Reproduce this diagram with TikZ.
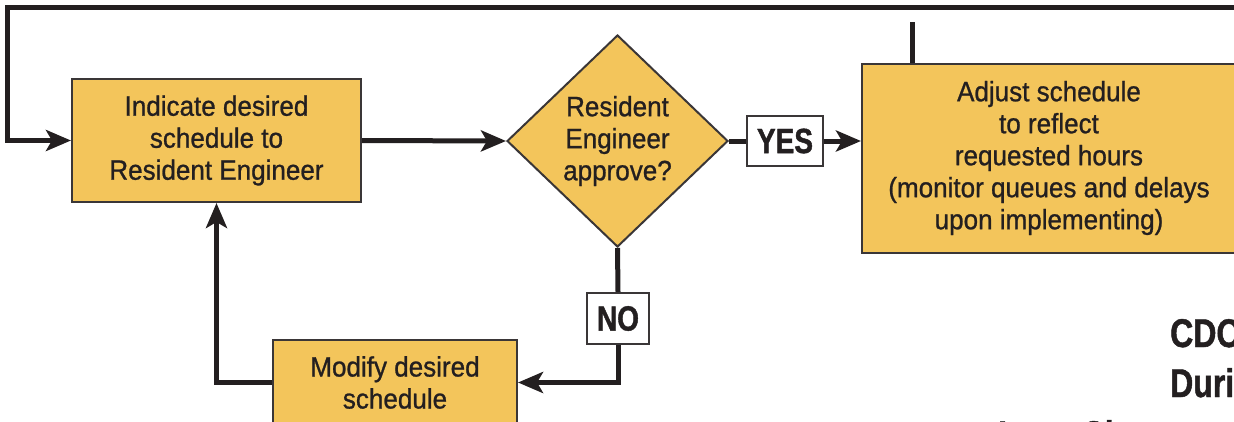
\documentclass[tikz,border=0pt]{standalone}
\usepackage{fontspec}
\setmainfont{Liberation Sans}[FakeStretch=0.93,FakeBold=0.9]
\newfontfamily\heavyfont{Liberation Sans}[FakeStretch=0.8,FakeBold=1.2]
\usetikzlibrary{arrows.meta,shapes.geometric}
\definecolor{boxfill}{HTML}{F3C55B}
\definecolor{ink}{HTML}{231F20}
\definecolor{edge}{HTML}{3A3637}

\begin{document}
\begin{tikzpicture}[x=1pt,y=-1pt,
  stepbox/.style={rectangle, draw=edge, line width=2pt, fill=boxfill,
    inner sep=0pt, align=center, text=ink,
    font=\fontsize{28}{32}\selectfont},
  decision/.style={diamond, draw=edge, line width=2pt, fill=boxfill,
    inner sep=0pt, align=center, text=ink,
    minimum width=221pt, minimum height=212pt,
    font=\fontsize{28}{32}\selectfont},
  answer/.style={rectangle, draw=edge, line width=2pt, fill=white,
    inner sep=0pt, text=ink, font=\heavyfont\bfseries\fontsize{35}{35}\selectfont},
  heading/.style={anchor=base west, text=ink, inner sep=0pt,
    font=\heavyfont\bfseries\fontsize{40}{48}\selectfont},
  conn/.style={draw=ink, line width=5pt},
  arr/.style={conn, -{Stealth[length=25pt,width=21pt,inset=6pt]}}
]
\useasboundingbox (0,0) rectangle (1234,421);
\clip (0,0) rectangle (1234,421);

% process boxes and decision
\node[stepbox, minimum width=289pt, minimum height=123pt] (indicate) at (216.5,140.5)
  {Indicate desired\\schedule to\\Resident Engineer};
\node[decision] (approve) at (617.5,141) {Resident\\Engineer\\approve?};
\node[stepbox, minimum width=374pt, minimum height=189pt] (adjust) at (1049,158)
  {Adjust schedule\\to reflect\\requested hours\\(monitor queues and delays\\upon implementing)};
\node[stepbox, minimum width=244pt, minimum height=85pt] (modify) at (395,382.5)
  {Modify desired\\schedule};

% answer labels on the two branches
\node[answer, minimum width=76pt, minimum height=50pt] (yes) at (785,141) {YES};
\node[answer, minimum width=62pt, minimum height=51pt] (no) at (618,318.5) {NO};

\coordinate (loopend) at (1245,7.5);
\coordinate (loopcorner) at (7.5,7.5);
\coordinate (stubtop) at (912,22);

% connectors
\draw[arr] (indicate.east) -- (approve.west);
\draw[conn] (approve.east) -- (yes.west);
\draw[arr] (yes.east) -- (yes.east -| adjust.west);
\draw[conn] (approve.south) -- (no.north);
\draw[arr] (no.south) |- (modify.east);
\draw[arr] (modify.west) -| (indicate.south);
\draw[arr] (loopend) -- (loopcorner) |- (indicate.west);
\draw[conn] (stubtop) -- (stubtop |- adjust.north);

% title, partly beyond the frame
\node[heading] (t1) at (1170,347) {CDOT};
\node[heading] (t2) at (1170,397) {During};
\node[heading] (t3) at (998,449) {Lane Closures};
\end{tikzpicture}
\end{document}
